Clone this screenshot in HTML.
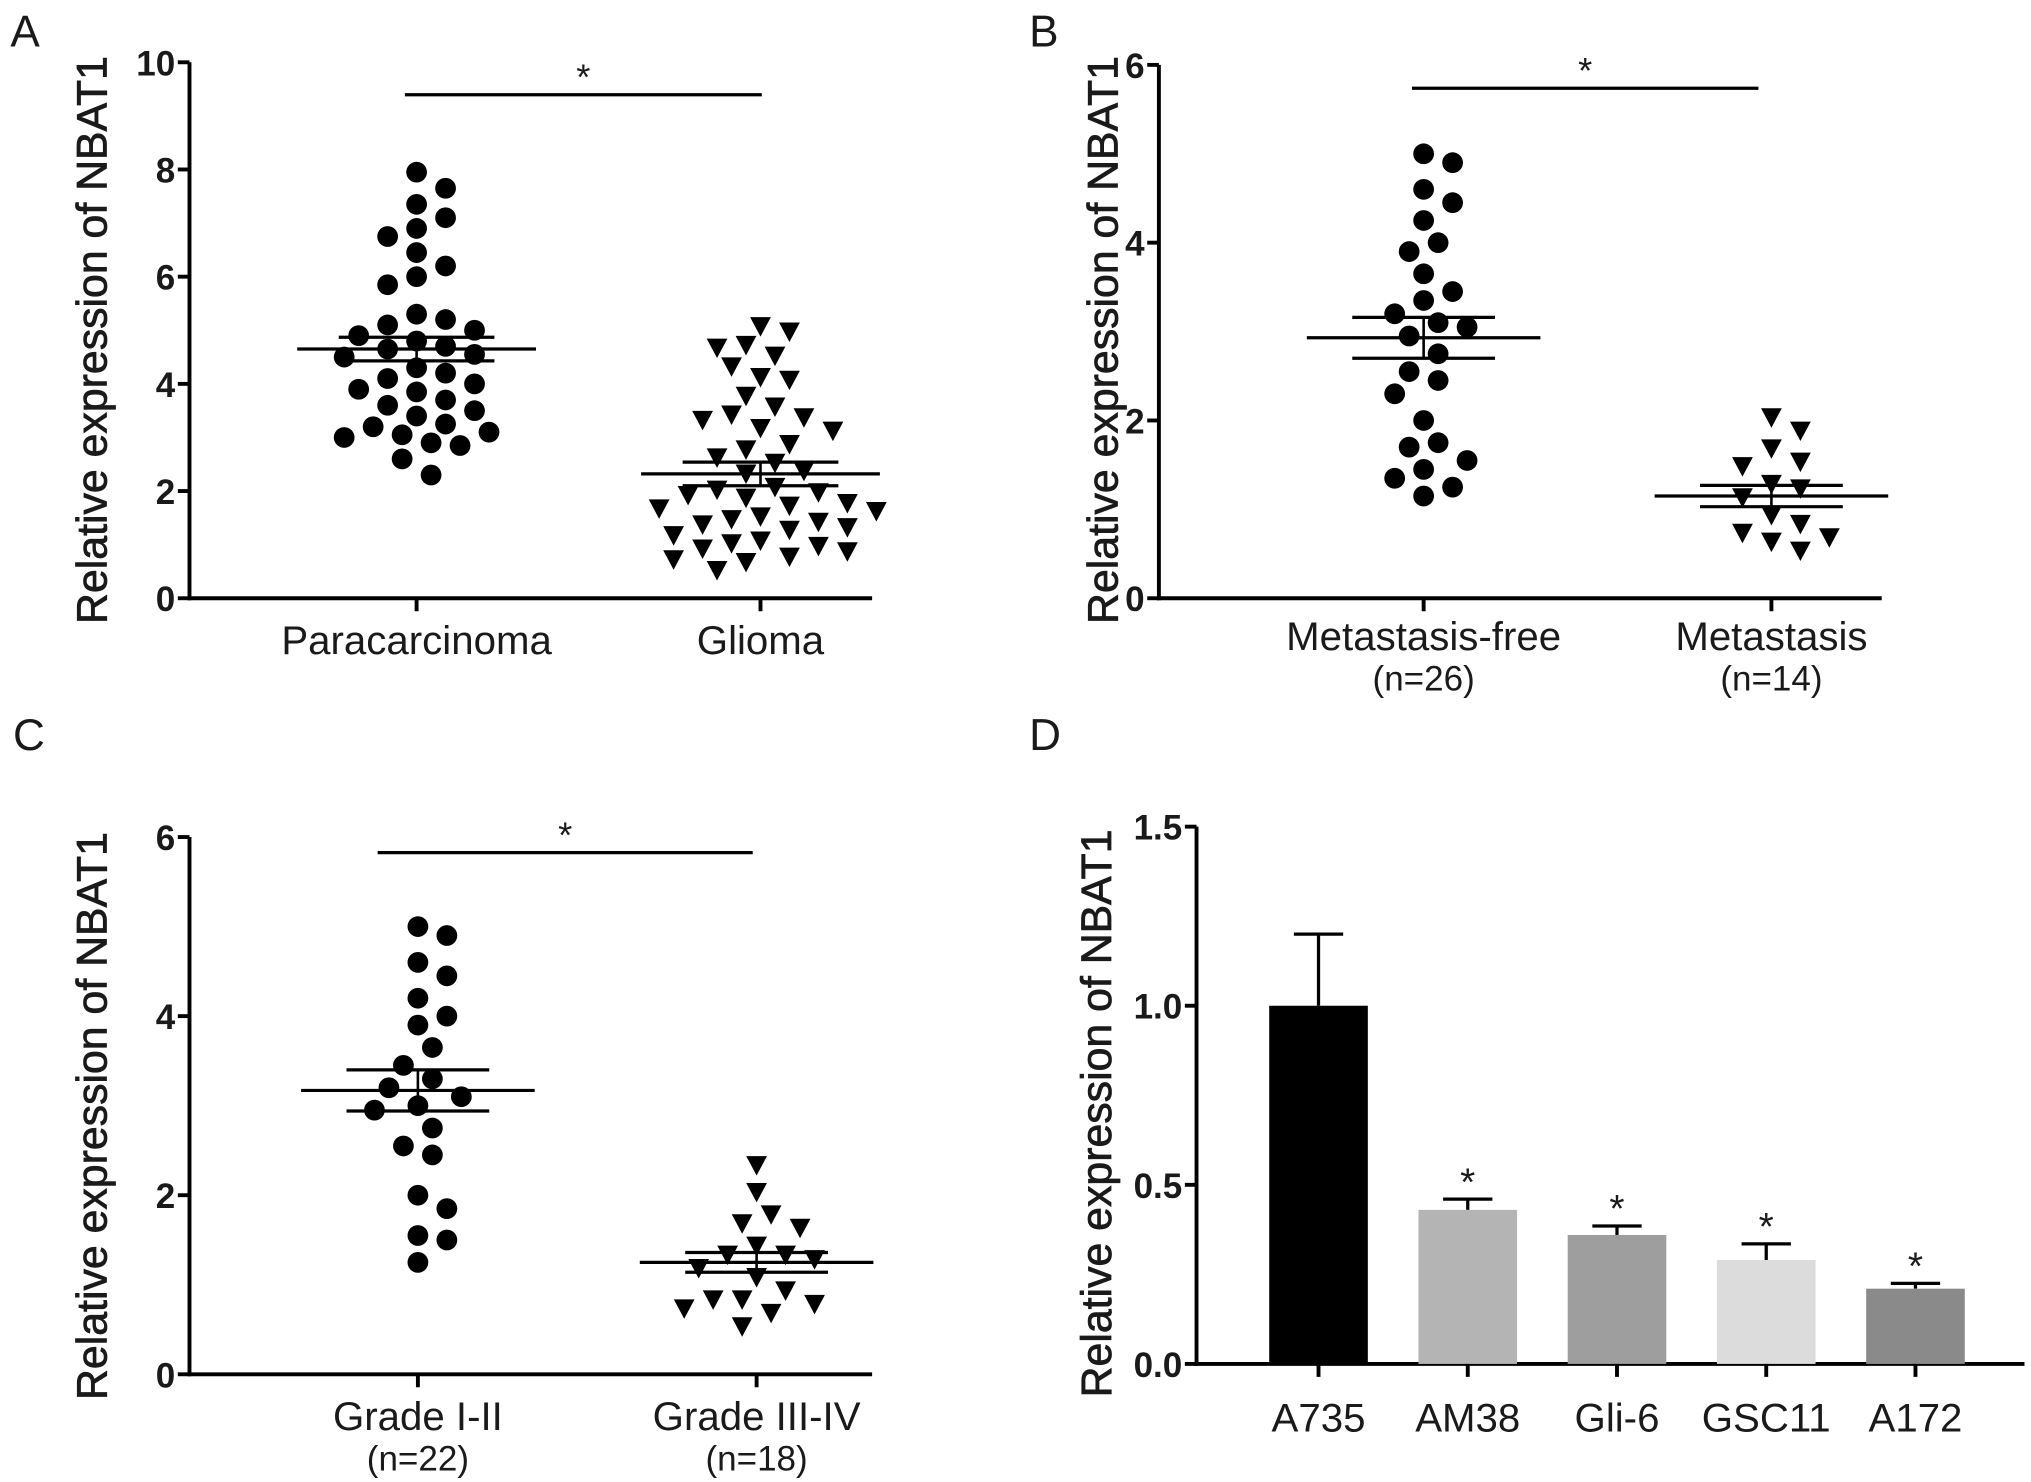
<!DOCTYPE html>
<html><head><meta charset="utf-8"><style>
html,body{margin:0;padding:0;background:#fff}
svg{display:block}
text{font-family:"Liberation Sans",sans-serif;fill:#1a1a1a}
</style></head><body>
<svg id="fig" width="2031" height="1482" viewBox="0 0 1565 1142" xmlns="http://www.w3.org/2000/svg"></svg>
<script>
// Panel A data
const aCategories = ["Paracarcinoma","Glioma"];
const aPara = [7.95,7.65,7.35,7.1,6.9,6.75,6.45,6.2,6.0,5.85,5.3,5.2,5.1,5.0,4.9,4.8,4.7,4.65,4.55,4.5,4.3,4.2,4.1,4.0,3.9,3.85,3.7,3.6,3.5,3.4,3.25,3.2,3.1,3.05,3.0,2.9,2.85,2.6,2.3];
const aGlioma = [5.1,5.0,4.75,4.7,4.55,4.35,4.15,4.1,3.8,3.6,3.45,3.4,3.35,3.2,3.15,2.9,2.8,2.65,2.55,2.4,2.35,2.1,2.05,2.0,1.95,1.9,1.8,1.75,1.7,1.65,1.55,1.5,1.45,1.4,1.35,1.3,1.2,1.1,1.05,1.0,0.95,0.9,0.8,0.75,0.7,0.55];
const aMeans = [4.65,2.32];
const aSem = [0.22,0.22];
const aTicks = ["0","2","4","6","8","10"];
// Panel B data
const bCategories = ["Metastasis-free","Metastasis"];
const bSub = ["(n=26)","(n=14)"];
const bFree = [5.0,4.9,4.6,4.45,4.25,4.0,3.9,3.65,3.45,3.35,3.2,3.1,3.05,2.95,2.75,2.55,2.45,2.3,2.0,1.75,1.7,1.55,1.45,1.35,1.25,1.15];
const bMeta = [2.05,1.9,1.7,1.55,1.5,1.3,1.25,1.15,0.95,0.85,0.75,0.7,0.65,0.55];
const bMeans = [2.93,1.15];
const bSem = [0.23,0.12];
const bTicks = ["0","2","4","6"];
// Panel C data
const cCategories = ["Grade I-II","Grade III-IV"];
const cSub = ["(n=22)","(n=18)"];
const cLow = [5.0,4.9,4.6,4.45,4.2,4.0,3.9,3.65,3.45,3.3,3.2,3.1,3.0,2.95,2.75,2.55,2.45,2.0,1.85,1.55,1.5,1.25];
const cHigh = [2.35,2.05,1.8,1.7,1.65,1.45,1.35,1.35,1.3,1.2,1.1,0.95,0.85,0.85,0.8,0.75,0.7,0.55];
const cMeans = [3.17,1.25];
const cSem = [0.23,0.11];
const cTicks = ["0","2","4","6"];
// Panel D data
const dCategories = ["A735","AM38","Gli-6","GSC11","A172"];
const dValues = [1.0,0.43,0.36,0.29,0.21];
const dErrors = [0.2,0.03,0.025,0.045,0.015];
const dSig = [false,true,true,true,true];
const dTicks = ["0.0","0.5","1.0","1.5"];

const NS="http://www.w3.org/2000/svg";
const svg=document.getElementById('fig');
function el(tag,attrs,parent){const e=document.createElementNS(NS,tag);for(const k in attrs)e.setAttribute(k,attrs[k]);(parent||svg).appendChild(e);return e;}
function txt(s,attrs,parent){const e=el('text',attrs,parent);e.textContent=s;return e;}

function axes(g,P,ticks){
  const y=v=>P.y0-(v-P.min)/(P.max-P.min)*(P.y0-P.yTop);
  const ya=el('line',{x1:P.x0,y1:P.yTop,x2:P.x0,y2:P.y0+1.5,stroke:'#000','stroke-width':3},g);
  
  const xa=el('line',{x1:P.x0-1.5,y1:P.y0,x2:P.xEnd,y2:P.y0,stroke:'#000','stroke-width':3},g);
  
  ticks.forEach(t=>{const v=parseFloat(t);const yy=y(v);
    el('line',{x1:P.x0-9,y1:yy,x2:P.x0,y2:yy,stroke:'#000','stroke-width':3},g);
    const tl=txt(t,{x:P.x0-11,y:yy+10,'text-anchor':'end','font-size':27,'font-weight':'bold'},g);
    });
  const tt=txt('Relative expression of NBAT1',{x:0,y:0,'text-anchor':'middle','font-size':33,'stroke':'#1a1a1a','stroke-width':0.6,transform:`translate(${P.titleX},${P.titleY}) rotate(-90)`},g);
  
  const pl=txt(P.letter,{x:P.lx,y:P.ly,'font-size':34},g);
  
  return y;
}
function swarm(vals,y,cx,minD){
  const placed=[];const out=[];
  vals.forEach(v=>{const yy=y(v);let off=0;
    for(let k=0;k<40;k++){const cand=(k%2?1:-1)*Math.ceil(k/2)*minD*0.62;
      if(placed.every(p=>Math.hypot(p[0]-(cx+cand),p[1]-yy)>=minD)){off=cand;break;}}
    placed.push([cx+off,yy]);out.push([cx+off,yy]);});
  return out;
}
function scatterPanel(P,ticks,cats,subs,groups,means,sems){
  const g=el('g',{});
  const y=axes(g,P,ticks);
  cats.forEach((c,i)=>{const cx=P.cx[i];
    el('line',{x1:cx,y1:P.y0,x2:cx,y2:P.y0+10,stroke:'#000','stroke-width':3},g);
    const cl=txt(c,{x:cx,y:P.labY,'text-anchor':'middle','font-size':31},g);
    
    if(subs){const sl=txt(subs[i],{x:cx,y:P.labY+31,'text-anchor':'middle','font-size':27},g);
      }
    const pts=swarm(groups[i],y,cx,P.minD);
    pts.forEach(p=>{let m;
      if(i===0){m=el('circle',{cx:p[0],cy:p[1],r:8,fill:'#000'},g);
        }
      else{m=el('polygon',{points:`${p[0]-8},${p[1]-6} ${p[0]+8},${p[1]-6} ${p[0]},${p[1]+9}`,fill:'#000'},g);
        }
      });
    const ym=y(means[i]),yh=y(means[i]+sems[i]),yl=y(means[i]-sems[i]);
    const ml=el('line',{x1:cx-P.mw,y1:ym,x2:cx+P.mw,y2:ym,stroke:'#000','stroke-width':2.5},g);
    
    [yh,yl].forEach(yy=>{const s=el('line',{x1:cx-P.sw,y1:yy,x2:cx+P.sw,y2:yy,stroke:'#000','stroke-width':2.5},g);
      });
    el('line',{x1:cx,y1:yh,x2:cx,y2:yl,stroke:'#000','stroke-width':2},g);
  });
  const sg=el('line',{x1:P.sig[0],y1:P.sig[2],x2:P.sig[1],y2:P.sig[2],stroke:'#000','stroke-width':2.5},g);
  
  const st=txt('*',{x:(P.sig[0]+P.sig[1])/2,y:P.sig[2]-4,'text-anchor':'middle','font-size':28},g);
  
}
scatterPanel({letter:'A',lx:8,ly:36,x0:146,xEnd:672,yTop:48,y0:461,min:0,max:10,cx:[321,586],labY:504,titleX:82,titleY:262,minD:18,mw:92,sw:60,sig:[312,587,73]},
  aTicks,aCategories,null,[aPara,aGlioma],aMeans,aSem);
scatterPanel({letter:'B',lx:793,ly:36,x0:893,xEnd:1450,yTop:50,y0:461,min:0,max:6,cx:[1097,1365],labY:501,titleX:861,titleY:262,minD:18,mw:90,sw:55,sig:[1088,1355,68]},
  bTicks,bCategories,bSub,[bFree,bMeta],bMeans,bSem);
scatterPanel({letter:'C',lx:10,ly:578,x0:146,xEnd:672,yTop:645,y0:1059,min:0,max:6,cx:[322,583],labY:1102,titleX:82,titleY:860,minD:18,mw:90,sw:55,sig:[291,580,657]},
  cTicks,cCategories,cSub,[cLow,cHigh],cMeans,cSem);

// Panel D bars
(function(){
  const P={letter:'D',lx:793,ly:578,x0:922,xEnd:1560,yTop:637,y0:1051,min:0,max:1.5,titleX:856,titleY:858};
  const g=el('g',{});
  const y=axes(g,P,dTicks);
  const colors=['#000','#b4b4b4','#9e9e9e','#dcdcdc','#8a8a8a'];
  const band=115;
  dCategories.forEach((c,i)=>{const cx=P.x0+94+band*i;const w=76;
    const top=y(dValues[i]);
    const eb=y(dValues[i]+dErrors[i]);
    const ev=el('line',{x1:cx,y1:eb,x2:cx,y2:top,stroke:'#000','stroke-width':2.5},g);
    
    el('line',{x1:cx-w*0.25,y1:eb,x2:cx+w*0.25,y2:eb,stroke:'#000','stroke-width':2.5},g);
    const r=el('rect',{x:cx-w/2,y:top,width:w,height:P.y0-top,fill:colors[i]},g);
    
    el('line',{x1:cx,y1:P.y0,x2:cx,y2:P.y0+10,stroke:'#000','stroke-width':3},g);
    const cl=txt(c,{x:cx,y:1103,'text-anchor':'middle','font-size':31},g);
    
    if(dSig[i]){const s=txt('*',{x:cx,y:eb-3,'text-anchor':'middle','font-size':30},g);
      }
  });
})();
</script>
</body></html>
